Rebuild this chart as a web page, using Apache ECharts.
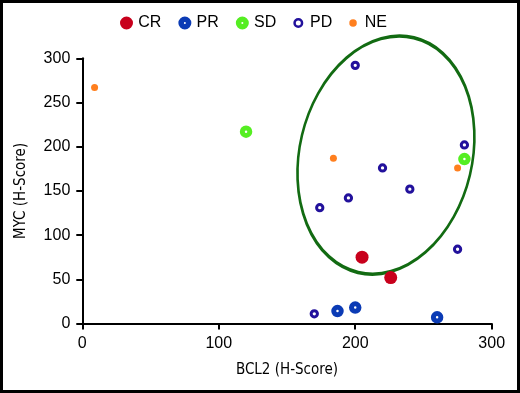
<!DOCTYPE html>
<html>
<head>
<meta charset="utf-8">
<script src="https://cdn.jsdelivr.net/npm/echarts@6/dist/echarts.min.js"></script>
<style>
    html, body { margin: 0; padding: 0; background: #fff; }
    #chart { width: 520px; height: 393px; }
</style>
</head>
<body>
<div id="chart"></div>
<script>
// values: [BCL2 H-Score, MYC H-Score]
const crPoints = [[205, 75], [226, 52]]
const prPoints = [[187, 14], [200, 18], [260, 7]]
const sdPoints = [[120, 217], [280, 186]]
const pdPoints = [[170, 11], [200, 292], [280, 202], [220, 176], [240, 152], [195, 142], [174, 131], [275, 84]]
const nePoints = [[9, 267], [184, 187], [275, 176]]

const seriesNames = ['CR', 'PR', 'SD', 'PD', 'NE']
const xTicks = { min: 0, max: 300, interval: 100 }
const yTicks = { min: 0, max: 300, interval: 50 }

// center of the drawn ellipse, in data units
const ellipseCenter = [222.5, 190.5]

const colors = {
    CR: '#c8001c',
    PR: '#0b3bb5',
    SD: '#55ee22',
    PD: '#22119c',
    NE: '#ff7f1e'
}

const labelFont = 'Liberation Sans, Arial, Helvetica, sans-serif'
const nameFont = 'DejaVu Sans Condensed, Liberation Sans Narrow, sans-serif'

const createScatterChart = ({ chartDom }) => {
    const myChart = echarts.init(chartDom)

    const series = [
        { name: 'CR', data: crPoints, symbolSize: 13, itemStyle: { color: colors.CR } },
        { name: 'PR', data: prPoints, symbolSize: 7.5, itemStyle: { color: '#fff', borderColor: colors.PR, borderWidth: 5 } },
        { name: 'SD', data: sdPoints, symbolSize: 7.5, itemStyle: { color: '#fff', borderColor: colors.SD, borderWidth: 5 } },
        { name: 'PD', data: pdPoints, symbolSize: 6.3, itemStyle: { color: '#fff', borderColor: colors.PD, borderWidth: 3 } },
        { name: 'NE', data: nePoints, symbolSize: 7, itemStyle: { color: colors.NE } }
    ]

    const legendStyles = {
        CR: { color: colors.CR, borderColor: colors.CR, borderWidth: 5.5, opacity: 1 },
        PR: { color: '#fff', borderColor: colors.PR, borderWidth: 5.5, opacity: 1 },
        SD: { color: '#fff', borderColor: colors.SD, borderWidth: 5.5, opacity: 1 },
        PD: { color: '#fff', borderColor: colors.PD, borderWidth: 2.5, opacity: 1 },
        NE: { color: colors.NE, borderColor: colors.NE, borderWidth: 0, opacity: 1 }
    }

    const axisCommon = {
        type: 'value',
        nameLocation: 'middle',
        nameTextStyle: { color: '#000', fontSize: 15, fontFamily: nameFont },
        axisLine: { show: true, lineStyle: { color: '#000', width: 2 } },
        axisTick: { show: true, length: 6, lineStyle: { color: '#000', width: 2 } },
        axisLabel: { color: '#000', fontSize: 16, fontFamily: labelFont, margin: 12 },
        splitLine: { show: false }
    }

    const option = {
        animation: false,
        backgroundColor: '#fff',
        legend: {
            data: seriesNames.map(name => ({ name, icon: 'circle', itemStyle: legendStyles[name] })),
            left: 120,
            top: 15,
            padding: 0,
            itemWidth: 7.5,
            itemHeight: 7.5,
            itemGap: 17,
            textStyle: { color: '#000', fontSize: 16, fontFamily: labelFont, padding: [0, 0, 0, 3] }
        },
        grid: {
            left: 82.3,
            right: 28.3,
            top: 58.3,
            bottom: 69.5
        },
        xAxis: {
            ...axisCommon,
            name: 'BCL2 (H-Score)',
            nameGap: 39,
            min: xTicks.min,
            max: xTicks.max,
            interval: xTicks.interval
        },
        yAxis: {
            ...axisCommon,
            name: 'MYC (H-Score)',
            nameGap: 54,
            min: yTicks.min,
            max: yTicks.max,
            interval: yTicks.interval
        },
        series: series.map(s => ({
            ...s,
            type: 'scatter',
            symbol: 'circle',
            itemStyle: { ...s.itemStyle, opacity: 1 },
            emphasis: { disabled: true }
        }))
    }
    myChart.setOption(option)

    // annotation ellipse and the outer frame
    const c = myChart.convertToPixel({ gridIndex: 0 }, ellipseCenter)
    myChart.setOption({
        graphic: [
            {
                type: 'circle',
                z: 1,
                x: c[0],
                y: c[1],
                shape: { cx: 0, cy: 0, r: 120.6 },
                scaleX: 86.3 / 120.6,
                scaleY: 1,
                rotation: -13.4 * Math.PI / 180,
                style: { fill: 'none', stroke: '#126b12', lineWidth: 3, strokeNoScale: true },
                silent: true
            },
            {
                type: 'rect',
                shape: { x: 1.5, y: 1.5, width: 517, height: 390 },
                style: { fill: 'none', stroke: '#000', lineWidth: 3 },
                silent: true
            }
        ]
    })
    return myChart
}

const chartDom = document.getElementById('chart')
createScatterChart({ chartDom })
</script>
</body>
</html>
